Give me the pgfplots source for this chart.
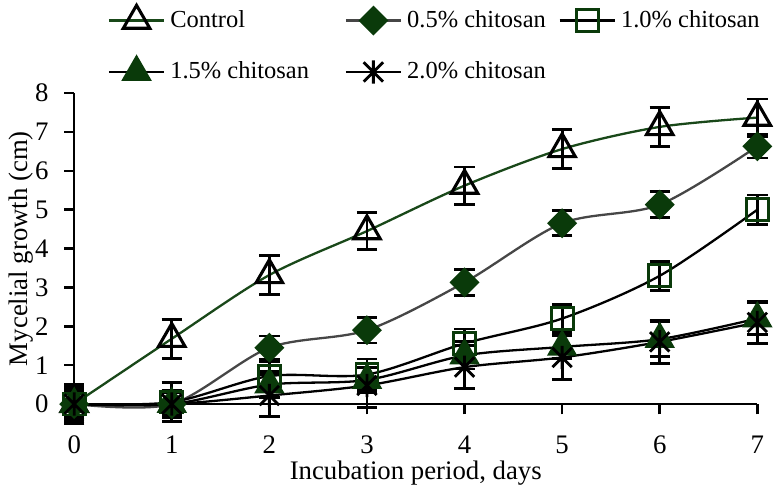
\documentclass[border=0pt]{standalone}
\usepackage{fontspec}
\setmainfont{Liberation Serif}
\usepackage{pgfplots}
\pgfplotsset{compat=1.18}
\usepackage{pgfplotstable}

\definecolor{dgreen}{RGB}{10,58,10}
\definecolor{lgreen}{RGB}{25,72,25}
\definecolor{lgray}{RGB}{70,70,70}

% Excel-like star: an x with a vertical stroke
\pgfdeclareplotmark{xstar}{%
  \pgfpathmoveto{\pgfqpoint{-\pgfplotmarksize}{-\pgfplotmarksize}}%
  \pgfpathlineto{\pgfqpoint{\pgfplotmarksize}{\pgfplotmarksize}}%
  \pgfpathmoveto{\pgfqpoint{-\pgfplotmarksize}{\pgfplotmarksize}}%
  \pgfpathlineto{\pgfqpoint{\pgfplotmarksize}{-\pgfplotmarksize}}%
  \pgfpathmoveto{\pgfqpoint{0pt}{-1.2\pgfplotmarksize}}%
  \pgfpathlineto{\pgfqpoint{0pt}{1.2\pgfplotmarksize}}%
  \pgfusepathqstroke}

% day, mean, error
\pgfplotstableread{
x y e
0 0 0.45
1 1.68 0.5
2 3.32 0.5
3 4.45 0.48
4 5.62 0.48
5 6.56 0.5
6 7.13 0.5
7 7.37 0.48
}\ctrl
\pgfplotstableread{
x y e
0 0 0.3
1 0 0.35
2 1.45 0.3
3 1.9 0.33
4 3.13 0.33
5 4.65 0.32
6 5.13 0.33
7 6.63 0.3
}\cha
\pgfplotstableread{
x y e
0 0 0.35
1 0.05 0.5
2 0.72 0.36
3 0.76 0.4
4 1.56 0.37
5 2.2 0.36
6 3.3 0.37
7 5.0 0.38
}\chb
\pgfplotstableread{
x y e
0 0 0.4
1 0 0.3
2 0.5 0.33
3 0.62 0.33
4 1.25 0.35
5 1.47 0.3
6 1.67 0.45
7 2.2 0.42
}\chc
\pgfplotstableread{
x y e
0 0 0.5
1 0 0.3
2 0.22 0.55
3 0.48 0.56
4 0.95 0.55
5 1.2 0.57
6 1.6 0.55
7 2.1 0.55
}\chd

\pgfplotsset{
  ebar/.style={error bars/.cd, y dir=both, y explicit,
    error bar style={black, line width=1.1pt},
    error mark options={black, line width=1.1pt, mark size=4pt, rotate=90}},
}

\begin{document}
\begin{tikzpicture}
\begin{axis}[
  scale only axis, width=268pt, height=122pt,
  xmin=0, xmax=7, ymin=0, ymax=8,
  xtick={0,...,7}, ytick={0,...,8},
  axis lines=left, axis line style={-, line width=1pt},
  tick align=outside, major tick length=4pt,
  tick style={black, line width=1pt},
  /pgf/number format/assume math mode=true,
  tick label style={font=\fontsize{10.5}{12}\selectfont},
  xticklabel style={yshift=-5pt},
  yticklabel style={xshift=-2.5pt},
  label style={font=\fontsize{10.5}{12}\selectfont},
  xlabel={Incubation period, days},
  xlabel style={yshift=4pt},
  ylabel={Mycelial growth (cm)},
  ylabel style={at={(axis description cs:0,0.5)}, anchor=center, yshift=21pt},
  clip=false,
  legend columns=3,
  legend cell align=left,
  legend image code/.code={\draw[mark repeat=2,mark phase=2,#1]
    plot coordinates {(0cm,0cm) (0.38cm,0cm) (0.76cm,0cm)};},
  legend style={draw=none, fill=none, at={(0,1)}, anchor=south west,
    xshift=10pt, yshift=0pt, font=\fontsize{9.6}{12}\selectfont,
    /tikz/row sep=8pt,
    /tikz/column 2/.style={column sep=12pt},
    /tikz/column 4/.style={column sep=3pt}},
]
\addplot[smooth, lgreen, line width=0.9pt, mark=triangle, mark size=6pt,
  mark options={black, fill=none, line width=1.2pt}, ebar]
  table[x=x, y=y, y error=e] {\ctrl};
\addlegendentry{Control}
\addplot[smooth, lgray, line width=0.9pt, mark=square*, mark size=3.7pt,
  mark options={dgreen, fill=dgreen, rotate=45}, ebar]
  table[x=x, y=y, y error=e] {\cha};
\addlegendentry{0.5\% chitosan}
\addplot[smooth, black, line width=0.9pt, mark=square, mark size=4.3pt,
  mark options={dgreen, fill=none, line width=1.1pt}, ebar]
  table[x=x, y=y, y error=e] {\chb};
\addlegendentry{1.0\% chitosan}
\addplot[smooth, black, line width=0.9pt, mark=triangle*, mark size=6pt,
  mark options={dgreen, fill=dgreen}, ebar]
  table[x=x, y=y, y error=e] {\chc};
\addlegendentry{1.5\% chitosan}
\addplot[smooth, black, line width=0.9pt, mark=xstar, mark size=3.8pt,
  mark options={black, line width=1.1pt}, ebar]
  table[x=x, y=y, y error=e] {\chd};
\addlegendentry{2.0\% chitosan}
\end{axis}
\end{tikzpicture}
\end{document}
